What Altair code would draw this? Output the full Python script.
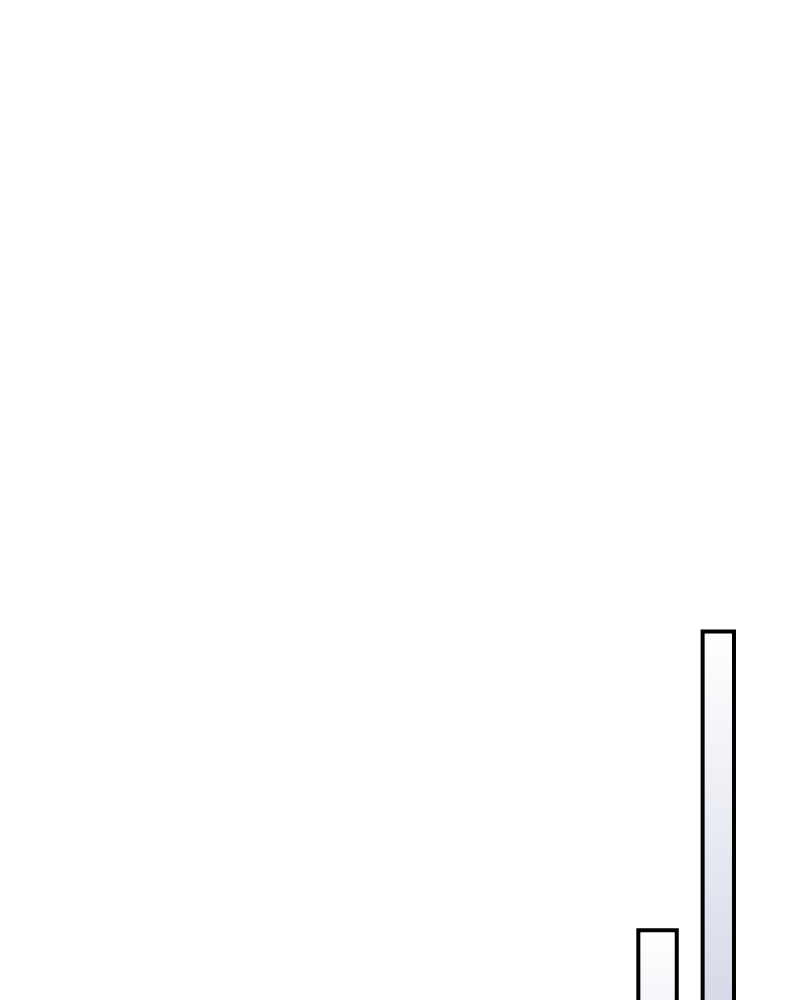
import altair as alt
import pandas as pd

bin_start = [80.4, 88.6]
bin_end = [85.3, 92.6]
values = [53.7, 68.7]

df = pd.DataFrame({"start": bin_start, "end": bin_end, "value": values})

gradient = alt.Gradient(
    gradient="linear",
    stops=[
        alt.GradientStop(color="#ffffff", offset=0),
        alt.GradientStop(color="#6776aa", offset=1),
    ],
    x1=0, x2=0, y1=0, y2=1,
)

chart = (
    alt.Chart(df)
    .mark_rect(fill=gradient, stroke="#000000", strokeWidth=4)
    .encode(
        x=alt.X("start:Q", scale=alt.Scale(domain=[0, 100], nice=False, zero=True), axis=None),
        x2="end:Q",
        y=alt.Y("value:Q", scale=alt.Scale(domain=[0, 100], nice=False, zero=True), axis=None),
        y2=alt.datum(0),
    )
    .properties(width=784, height=1992, padding=0, background="#ffffff")
    .configure_view(stroke=None)
)

chart.save("out.html", embed_options={"renderer": "svg", "actions": False})
